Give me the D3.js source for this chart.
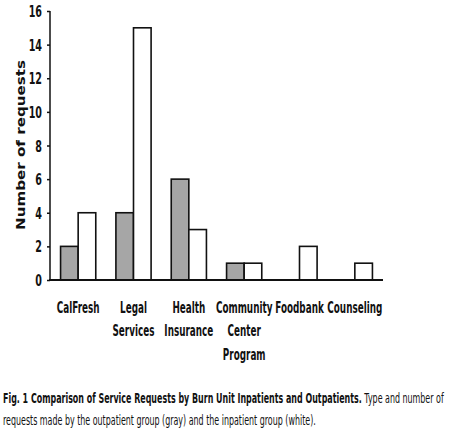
<!DOCTYPE html>
<html>
<head>
<meta charset="utf-8">
<script src="https://cdn.jsdelivr.net/npm/d3@7"></script>
<style>
  body { margin: 0; background: #fff; }
  svg { display: block; }
</style>
</head>
<body>
<script>
const wSvg = 450;
const hSvg = 442;

const categories = [
  ["CalFresh"],
  ["Legal", "Services"],
  ["Health", "Insurance"],
  ["Community", "Center", "Program"],
  ["Foodbank"],
  ["Counseling"]
];
const outpatient = [2, 4, 6, 1, 0, 0];   // gray
const inpatient = [4, 15, 3, 1, 2, 1];   // white
const yTicks = [0, 2, 4, 6, 8, 10, 12, 14, 16];
const groups = ["outpatient", "inpatient"];

const font = "'DejaVu Sans', sans-serif";
const squeeze = 0.57;

let rows = categories.map((c, i) => ({
  key: c.join(" "),
  lines: c,
  outpatient: outpatient[i],
  inpatient: inpatient[i]
}));

let svg = d3.select("body")
  .append("svg")
  .attr("width", wSvg)
  .attr("height", hSvg);

let x0 = d3.scaleBand(rows.map(d => d.key), [50.5, 382.5]);
let bw = x0.bandwidth();
let x1 = d3.scaleBand(groups, [bw / 2 - 17.6, bw / 2 + 17.6]);
let yScale = d3.scaleLinear([0, 16], [280, 11]);
let fill = d3.scaleOrdinal(groups, ["#a6a6a6", "#ffffff"]);

// squeeze a text horizontally so it is `target` px wide, anchored at its x
function fitWidth(sel, target) {
  sel.each(function() {
    let w = this.getComputedTextLength();
    let k = target / w;
    let tx = +this.getAttribute("x"), ty = +this.getAttribute("y");
    d3.select(this)
      .attr("x", 0).attr("y", 0)
      .attr("transform", `translate(${tx},${ty}) scale(${k},1)`);
  });
}

// bars
let bars = svg.append("g");
bars.selectAll("g")
  .data(rows)
  .enter()
  .append("g")
  .attr("transform", d => `translate(${x0(d.key)},0)`)
  .selectAll("rect")
  .data(d => groups.map(g => ({ g: g, v: d[g] })).filter(b => b.v > 0))
  .enter()
  .append("rect")
  .attr("x", b => x1(b.g))
  .attr("width", x1.bandwidth())
  .attr("y", b => yScale(b.v))
  .attr("height", b => yScale(0) - yScale(b.v))
  .attr("fill", b => fill(b.g))
  .attr("stroke", "#111")
  .attr("stroke-width", 1.6);

// y axis
let yAxis = svg.append("g")
  .attr("transform", "translate(50,0)")
  .call(d3.axisLeft(yScale).tickValues(yTicks).tickSize(3).tickFormat(d3.format("d")));
yAxis.select(".domain").attr("stroke", "#111").attr("stroke-width", 1.5).attr("d", `M0,${yScale(16)}V${yScale(0)}`);
yAxis.selectAll(".tick line").attr("stroke", "#111").attr("stroke-width", 1.5);
yAxis.selectAll(".tick text")
  .attr("x", 0)
  .attr("dy", null)
  .attr("y", 5.5)
  .attr("transform", `translate(-8,0) scale(0.6,1)`)
  .attr("font-family", font)
  .attr("font-weight", "bold")
  .attr("font-size", "16px")
  .attr("fill", "#111");

// x axis line
svg.append("line")
  .attr("x1", 49)
  .attr("x2", 383)
  .attr("y1", yScale(0))
  .attr("y2", yScale(0))
  .attr("stroke", "#111")
  .attr("stroke-width", 2.2);

// x labels
let xl = svg.append("g")
  .selectAll("text")
  .data(rows)
  .enter()
  .append("text")
  .attr("transform", d => `translate(${x0(d.key) + bw / 2},312.5) scale(${squeeze},1)`)
  .attr("text-anchor", "middle")
  .attr("font-family", font)
  .attr("font-weight", "bold")
  .attr("font-size", "15.5px")
  .attr("fill", "#111");
xl.selectAll("tspan")
  .data(d => d.lines)
  .enter()
  .append("tspan")
  .attr("x", 0)
  .attr("dy", (t, i) => i === 0 ? 0 : 24)
  .text(t => t);

// y title
let yTitle = svg.append("text")
  .attr("x", 0)
  .attr("y", 0)
  .attr("text-anchor", "middle")
  .attr("font-family", font)
  .attr("font-weight", "bold")
  .attr("font-size", "12px")
  .attr("fill", "#111")
  .text("Number of requests");
let tw = yTitle.node().getComputedTextLength();
yTitle.attr("transform", `translate(25,145) rotate(-90) scale(${170 / tw},1)`);

// caption
let cap1 = svg.append("text")
  .attr("x", 3)
  .attr("y", 403)
  .attr("font-family", font)
  .attr("font-size", "14px")
  .attr("fill", "#111");
cap1.append("tspan")
  .attr("font-weight", "bold")
  .text("Fig. 1 Comparison of Service Requests by Burn Unit Inpatients and Outpatients.");
cap1.append("tspan")
  .text(" Type and number of");
fitWidth(cap1, 441);

let cap2 = svg.append("text")
  .attr("x", 3)
  .attr("y", 425)
  .attr("font-family", font)
  .attr("font-size", "14px")
  .attr("fill", "#111")
  .text("requests made by the outpatient group (gray) and the inpatient group (white).");
fitWidth(cap2, 313);
</script>
</body>
</html>
